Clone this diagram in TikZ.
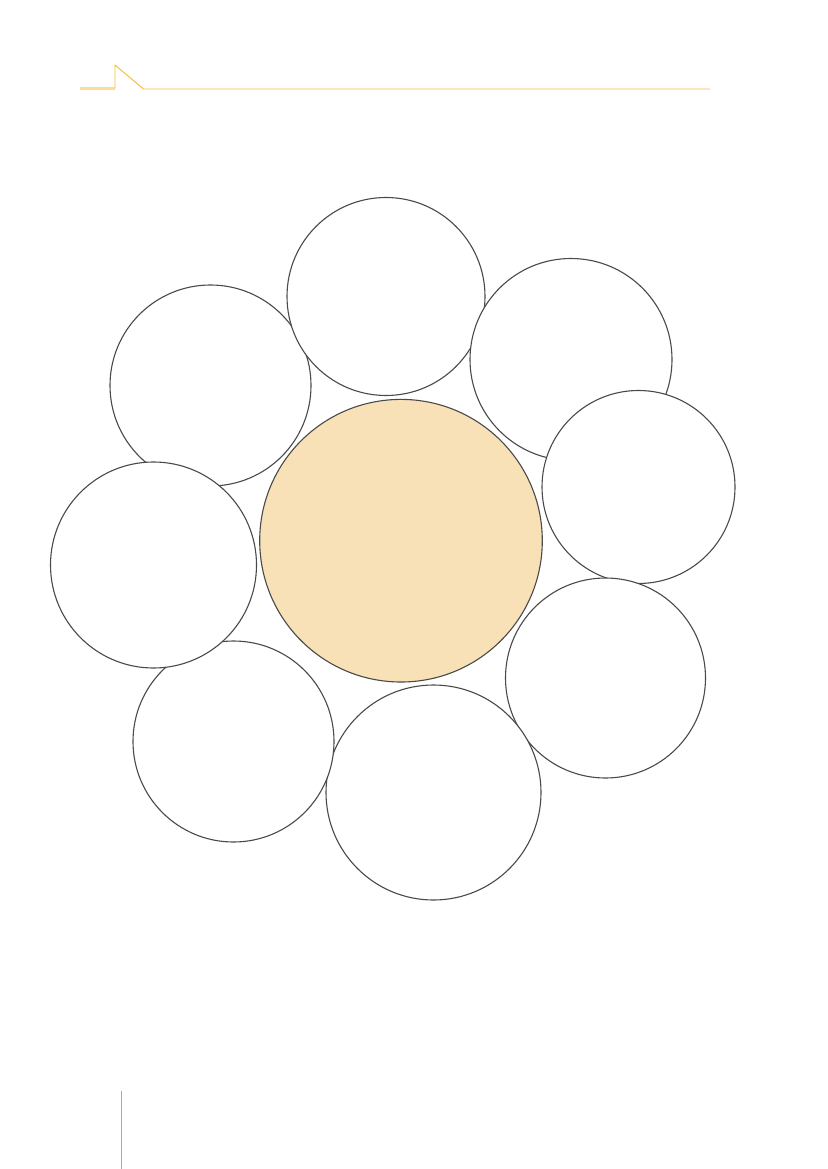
\documentclass[tikz,border=0pt]{standalone}
\usepackage{tikz}
\definecolor{ruleyellow}{HTML}{F2BD3F}
\definecolor{rulelight}{HTML}{FBDD93}
\definecolor{ruledark}{HTML}{E6A624}
\definecolor{rim}{HTML}{4A4A4A}
\definecolor{core}{HTML}{F9E1B7}
\begin{document}
\begin{tikzpicture}[x=0.254mm,y=-0.254mm,line join=round,
	petal/.style={draw=rim,line width=0.8pt,fill=white},
	centre/.style={draw=rim,line width=0.8pt,fill=core}]
	\useasboundingbox (0,0) rectangle (827,1169);
	% header rule
	\draw[rulelight,line width=1.5pt] (80,88.5)--(115,88.5);
	\draw[ruleyellow,line width=0.7pt] (115,88.5)--(115,65)--(143.5,89)--(710,89);
	\draw[ruledark,line width=0.9pt] (121.5,1090.5)--(121.5,1169);
	% outer circles
	\foreach \cx/\cy/\r in {210.5/385.5/100.5, 386/296.5/99, 571/359.5/101, 638.5/487/96.5,
		605.5/678/100, 433.5/792.5/107.5, 233.5/741.5/100.5, 153.5/565/103}
		\draw[petal] (\cx,\cy) circle[radius=\r];
	% centre circle
	\draw[centre] (401,540.7) circle[radius=141.3];
\end{tikzpicture}
\end{document}
